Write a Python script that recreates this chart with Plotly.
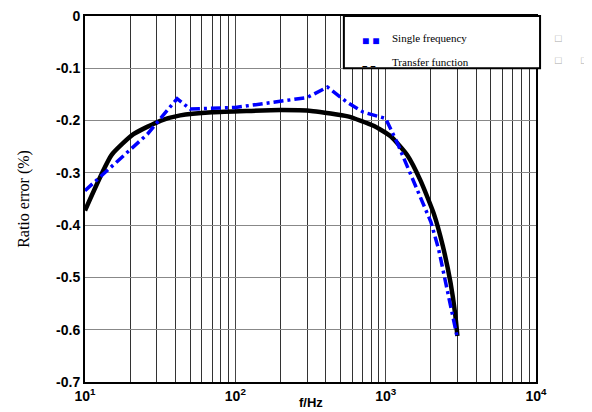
import plotly.graph_objects as go

# Data
freq_tf = [10, 15, 21, 32, 43, 70, 200, 330, 560, 830, 1080, 1390, 1700, 2090, 2400, 2700, 2900, 3000]
err_tf = [-0.372, -0.266, -0.226, -0.2, -0.19, -0.184, -0.18, -0.182, -0.192, -0.21, -0.23,
          -0.266, -0.314, -0.378, -0.44, -0.51, -0.57, -0.612]
freq_sf = [10, 26, 41, 50, 100, 200, 300, 410, 560, 710, 1000, 1200, 1600, 2000, 2250, 2600, 3000]
err_sf = [-0.334, -0.226, -0.158, -0.178, -0.175, -0.164, -0.156, -0.136, -0.166, -0.184, -0.196,
          -0.244, -0.33, -0.394, -0.446, -0.53, -0.616]

x_major = [10, 100, 1000, 10000]
x_major_text = ["10<sup>1</sup>", "10<sup>2</sup>", "10<sup>3</sup>", "10<sup>4</sup>"]
x_minor = [m * d for d in (10, 100, 1000) for m in range(2, 10)]
y_ticks = [0, -0.1, -0.2, -0.3, -0.4, -0.5, -0.6, -0.7]
y_text = ["0", "-0.1", "-0.2", "-0.3", "-0.4", "-0.5", "-0.6", "-0.7"]

fig = go.Figure()
fig.add_trace(go.Scatter(x=freq_tf, y=err_tf, mode="lines", name="Transfer function",
                         line=dict(color="black", width=4.5, shape="spline", smoothing=0.5), showlegend=False))
fig.add_trace(go.Scatter(x=freq_sf, y=err_sf, mode="lines", name="Single frequency",
                         line=dict(color="#0000FF", width=3.5, dash="10px,4px,3px,4px"), showlegend=False))

tickfont = dict(family="Liberation Sans, Arial", size=14, color="black")
fig.update_xaxes(type="log", range=[1, 4], tickvals=x_major,
                 ticktext=["<b>%s</b>" % t for t in x_major_text],
                 showgrid=True, gridcolor="#444444", gridwidth=1,
                 minor=dict(tickvals=x_minor, showgrid=True, gridcolor="#333333", gridwidth=1, ticks=""),
                 showline=True, linecolor="black", linewidth=2, mirror=True,
                 ticks="", tickfont=tickfont, zeroline=False, automargin=False,
                 ticklabeloverflow="allow")
fig.update_yaxes(range=[-0.7, 0], tickvals=y_ticks, ticktext=["<b>%s</b>" % t for t in y_text],
                 showgrid=True, gridcolor="#888888", gridwidth=1,
                 showline=True, linecolor="black", linewidth=2, mirror=True,
                 ticks="", tickfont=tickfont, zeroline=False, automargin=False,
                 ticklabeloverflow="allow",
                 title=dict(text="Ratio error (%)", font=dict(family="Liberation Serif, Times New Roman", size=16, color="black"),
                            standoff=22))

# x-axis title as annotation (keeps it inside the window)
fig.add_annotation(xref="paper", yref="paper", x=0.5, y=-0.057, text="<b>f/Hz</b>", showarrow=False,
                   xanchor="center", yanchor="middle",
                   font=dict(family="Liberation Sans, Arial", size=13, color="black"))

# Legend box drawn manually
fig.add_shape(type="rect", xref="paper", yref="paper", x0=0.574, x1=1.009, y0=0.857, y1=1.0,
              line=dict(color="black", width=2), fillcolor="white", layer="above")
fig.add_annotation(xref="paper", yref="paper", x=0.61, y=0.934, text="■ ■", showarrow=False,
                   xanchor="left", yanchor="middle", font=dict(color="#0000FF", size=12))
fig.add_annotation(xref="paper", yref="paper", x=0.676, y=0.94, text="Single frequency", showarrow=False,
                   xanchor="left", yanchor="middle",
                   font=dict(family="Liberation Serif, Times New Roman", size=11, color="black"))
fig.add_annotation(xref="paper", yref="paper", x=0.61, y=0.867, text="<b>– –</b>", showarrow=False,
                   xanchor="left", yanchor="middle", font=dict(color="black", size=11))
fig.add_annotation(xref="paper", yref="paper", x=0.676, y=0.874, text="Transfer function", showarrow=False,
                   xanchor="left", yanchor="middle",
                   font=dict(family="Liberation Serif, Times New Roman", size=11, color="black"))
for (px, py) in [(1.049, 0.94), (1.049, 0.88), (1.108, 0.88)]:
    fig.add_annotation(xref="paper", yref="paper", x=px, y=py, text="□", showarrow=False,
                       xanchor="center", yanchor="middle", font=dict(color="#AAAAAA", size=11))

fig.update_layout(width=592, height=412, margin=dict(l=77, r=64, t=8, b=38),
                  paper_bgcolor="white", plot_bgcolor="white", showlegend=False)

fig.write_html("out.html")
